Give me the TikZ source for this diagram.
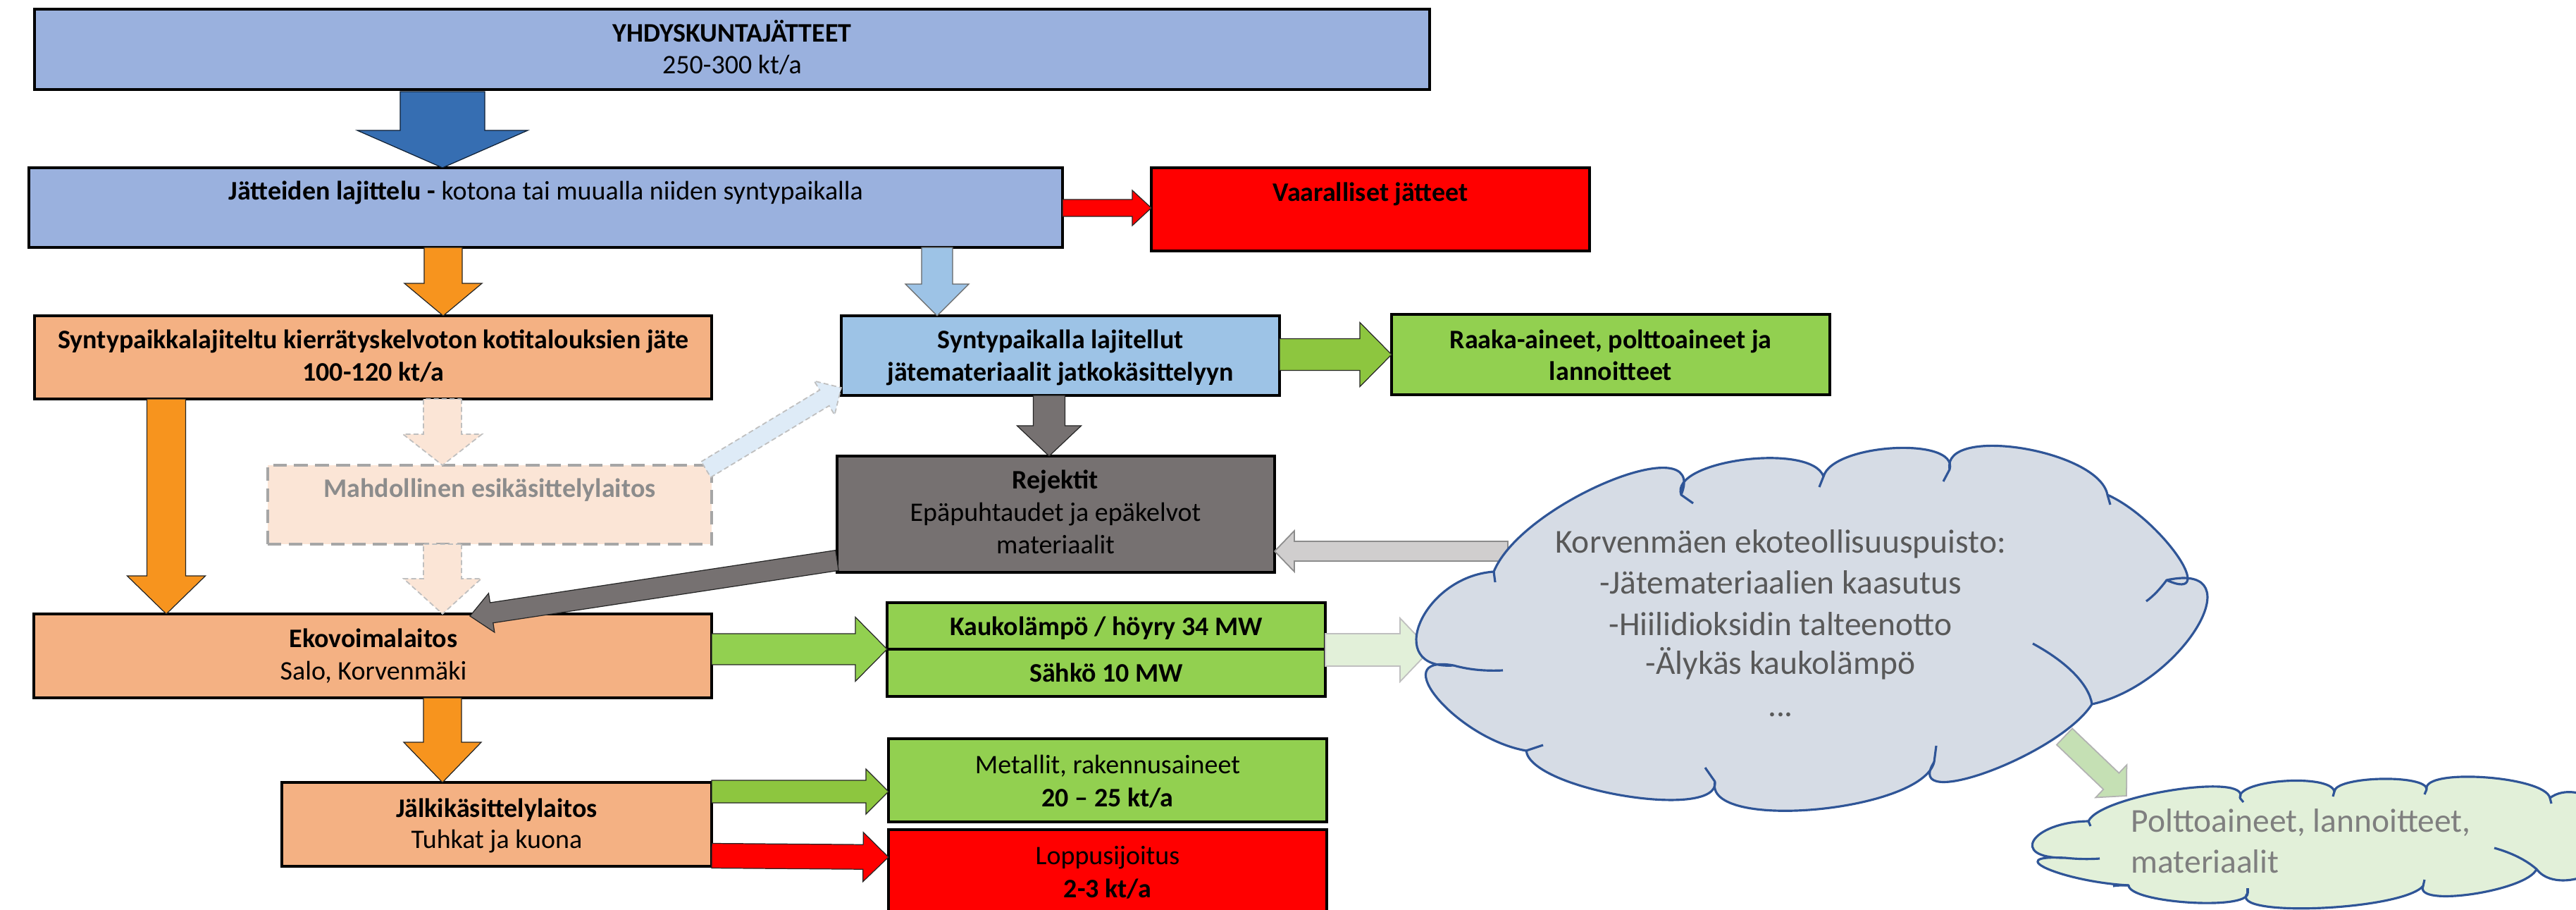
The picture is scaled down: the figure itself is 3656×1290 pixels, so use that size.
\documentclass[tikz,border=0pt]{standalone}
\usepackage{fontspec}
\setmainfont{Carlito}
\usetikzlibrary{calc}

\definecolor{topblue}{RGB}{154,177,222}
\definecolor{bigarrow}{RGB}{54,110,178}
\definecolor{orangearr}{RGB}{247,148,30}
\definecolor{peach}{RGB}{244,177,131}
\definecolor{lightpeach}{RGB}{251,229,214}
\definecolor{skyblue}{RGB}{157,195,230}
\definecolor{fadeblue}{RGB}{222,235,247}
\definecolor{okgreen}{RGB}{146,208,80}
\definecolor{darkgreen}{RGB}{141,198,63}
\definecolor{fadegreen}{RGB}{226,240,217}
\definecolor{midgreen}{RGB}{197,224,180}
\definecolor{rejgray}{RGB}{118,113,113}
\definecolor{lightgray}{RGB}{208,206,206}
\definecolor{dashgray}{RGB}{166,166,166}
\definecolor{cloudfill}{RGB}{214,220,229}
\definecolor{cloudline}{RGB}{47,85,151}
\definecolor{cloudtext}{RGB}{89,89,89}
\definecolor{softtext}{RGB}{127,127,127}

\newcommand\blockarr[6]{%
  \coordinate (ba-h) at ($(#3)!#6!(#2)$);
  \draw[#1] ($(#2)!#4!90:(#3)$) -- ($(ba-h)!#4!90:(#3)$) -- ($(ba-h)!#5!90:(#3)$) -- (#3)
    -- ($(ba-h)!#5!-90:(#3)$) -- ($(ba-h)!#4!-90:(#3)$) -- ($(#2)!#4!-90:(#3)$) -- cycle;}

\newcommand\boxnode[6]{%
  \pgfmathsetmacro\bxw{(#5-#3)*0.01}%
  \pgfmathsetmacro\bxh{(#6-#4)*0.01}%
  \node[boxshape,#2,minimum width=\bxw cm,minimum height=\bxh cm] (#1) at ({(#3+#5)/2},{(#4+#6)/2}) {};}

\tikzset{
  boxshape/.style={rectangle,draw=black,line width=1.1pt,inner sep=0pt,outer sep=0pt},
  txt/.style={anchor=base,inner sep=0pt,font=\fontsize{10.8}{12}\selectfont},
  btxt/.style={txt,font=\fontsize{10.8}{12}\selectfont\bfseries},
  cltxt/.style={anchor=base,inner sep=0pt,font=\fontsize{13.5}{15}\selectfont,text=cloudtext},
  arrline/.style={draw=black!85,line width=0.35pt,line join=miter},
  fadedash/.style={draw=black!25,line width=0.5pt,dash pattern=on 2pt off 1.2pt},
  cloudedge/.style={draw=cloudline,line width=0.9pt,line join=round},
}

\begin{document}
\begin{tikzpicture}[x=0.01cm,y=-0.01cm]
\useasboundingbox (0,0) rectangle (3656,1290);
\clip (0,0) rectangle (3656,1290);
\fill[white] (0,0) rectangle (3656,1290);

% ---------- boxes ----------
\boxnode{yhd}{fill=topblue}{49}{13}{2029}{127}
\boxnode{laj}{fill=topblue}{41}{238}{1508}{351}
\boxnode{vaar}{fill=red}{1634}{238}{2256}{356}
\boxnode{kot}{fill=peach}{49}{448}{1010}{566}
\boxnode{syn}{fill=skyblue}{1194}{448}{1816}{561}
\boxnode{raaka}{fill=okgreen}{1975}{446}{2597}{560}
\boxnode{rej}{fill=rejgray}{1188}{647}{1809}{812}
\boxnode{mahd}{fill=lightpeach,draw=dashgray,line width=1.4pt,dash pattern=on 5.5pt off 3pt}{380}{660}{1010}{772}
\boxnode{eko}{fill=peach}{48}{871}{1010}{990}
\boxnode{kauko}{fill=okgreen}{1259}{855}{1881}{921}
\boxnode{sahko}{fill=okgreen}{1259}{921}{1881}{988}
\boxnode{jalk}{fill=peach}{400}{1110}{1010}{1229}
\boxnode{metal}{fill=okgreen}{1261}{1048}{1883}{1166}
\boxnode{lopp}{fill=red}{1261}{1177}{1883}{1310}

% ---------- texts ----------
\node[btxt] (yhd1) at (1039,59) {YHDYSKUNTAJÄTTEET};
\node[txt] (yhd2) at (1039,104) {250-300 kt/a};
\node[txt] (laj1) at (775,283) {\textbf{Jätteiden lajittelu -} kotona tai muualla niiden syntypaikalla};
\node[btxt] (vaar1) at (1945,285) {Vaaralliset jätteet};
\node[btxt] (kot1) at (530,494) {Syntypaikkalajiteltu kierrätyskelvoton kotitalouksien jäte};
\node[btxt] (kot2) at (530,540) {100-120 kt/a};
\node[btxt] (syn1) at (1505,494) {Syntypaikalla lajitellut};
\node[btxt] (syn2) at (1505,540) {jätemateriaalit jatkokäsittelyyn};
\node[btxt] (raaka1) at (2286,494) {Raaka-aineet, polttoaineet ja};
\node[btxt] (raaka2) at (2286,539) {lannoitteet};
\node[btxt] (rej1) at (1498,693) {Rejektit};
\node[txt] (rej2) at (1498,739) {Epäpuhtaudet ja epäkelvot};
\node[txt] (rej3) at (1498,785) {materiaalit};
\node[btxt,text=black!45] (mahd1) at (695,705) {Mahdollinen esikäsittelylaitos};
\node[btxt] (eko1) at (530,918) {Ekovoimalaitos};
\node[txt] (eko2) at (530,964) {Salo, Korvenmäki};
\node[btxt] (kauko1) at (1570,901) {Kaukolämpö / höyry 34 MW};
\node[btxt] (sahko1) at (1570,967) {Sähkö 10 MW};
\node[btxt] (jalk1) at (705,1159) {Jälkikäsittelylaitos};
\node[txt] (jalk2) at (705,1203) {Tuhkat ja kuona};
\node[txt] (metal1) at (1572,1097) {Metallit, rakennusaineet};
\node[btxt] (metal2) at (1572,1144) {20 – 25 kt/a};
\node[txt] (lopp1) at (1572,1226) {Loppusijoitus};
\node[btxt] (lopp2) at (1572,1273) {2-3 kt/a};

% ---------- arrow end points ----------
\coordinate (a1s) at (628,130);   \coordinate (a1e) at (628,0 |- laj.north);
\coordinate (a2s) at (629,0 |- laj.south); \coordinate (a2e) at (629,0 |- kot.north);
\coordinate (a3s) at (1330,0 |- laj.south); \coordinate (a3e) at (1330,0 |- syn.north);
\coordinate (a4s) at (laj.east |- 0,295); \coordinate (a4e) at (vaar.west |- 0,295);
\coordinate (a5s) at (syn.east |- 0,503); \coordinate (a5e) at (raaka.west |- 0,503);
\coordinate (a6s) at (1489,0 |- syn.south); \coordinate (a6e) at (1489,0 |- rej.north);
\coordinate (a7s) at (2140,782); \coordinate (a7e) at (rej.east |- 0,782);
\coordinate (a8s) at (236,0 |- kot.south); \coordinate (a8e) at (236,0 |- eko.north);
\coordinate (a9s) at (628,0 |- kot.south); \coordinate (a9e) at (628,0 |- mahd.north);
\coordinate (a10s) at (628,0 |- mahd.south); \coordinate (a10e) at (628,0 |- eko.north);
\coordinate (a11s) at (1002,666); \coordinate (a11e) at (syn.west |- 0,550);
\coordinate (a12s) at (rej.west |- 0,795); \coordinate (a12e) at (667,874);
\coordinate (a13s) at (eko.east |- 0,921); \coordinate (a13e) at (kauko.west |- 0,921);
\coordinate (a14s) at (kauko.east |- 0,922); \coordinate (a14e) at (2030,922);
\coordinate (a15s) at (628,0 |- eko.south); \coordinate (a15e) at (628,0 |- jalk.north);
\coordinate (a16s) at (jalk.east |- 0,1123); \coordinate (a16e) at (metal.west |- 0,1123);
\coordinate (a17s) at (jalk.east |- 0,1214); \coordinate (a17e) at (lopp.west |- 0,1216);
\coordinate (a18s) at (2930,1045); \coordinate (a18e) at (3018,1129);

% ---------- block arrows ----------
\blockarr{fill=bigarrow,draw=black!70!bigarrow,line width=0.35pt}{a1s}{a1e}{0.6cm}{1.21cm}{0.53cm}
\blockarr{fill=orangearr,arrline}{a2s}{a2e}{0.27cm}{0.55cm}{0.46cm}
\blockarr{fill=skyblue,draw=black!60,line width=0.35pt}{a3s}{a3e}{0.22cm}{0.45cm}{0.45cm}
\blockarr{fill=red,arrline}{a4s}{a4e}{0.12cm}{0.25cm}{0.27cm}
\blockarr{fill=darkgreen,arrline}{a5s}{a5e}{0.225cm}{0.455cm}{0.45cm}
\blockarr{fill=rejgray,arrline}{a6s}{a6e}{0.225cm}{0.455cm}{0.43cm}
\blockarr{fill=lightgray,draw=black!45,line width=0.5pt}{a7s}{a7e}{0.14cm}{0.29cm}{0.28cm}
\blockarr{fill=orangearr,arrline}{a8s}{a8e}{0.275cm}{0.555cm}{0.54cm}
\blockarr{fill=lightpeach,fadedash}{a9s}{a9e}{0.27cm}{0.56cm}{0.44cm}
\blockarr{fill=lightpeach,fadedash}{a10s}{a10e}{0.27cm}{0.55cm}{0.50cm}
\blockarr{fill=fadeblue,fadedash}{a11s}{a11e}{0.13cm}{0.28cm}{0.28cm}
\blockarr{fill=rejgray,arrline}{a12s}{a12e}{0.145cm}{0.28cm}{0.31cm}
\blockarr{fill=okgreen,arrline}{a13s}{a13e}{0.22cm}{0.455cm}{0.45cm}
\blockarr{fill=fadegreen,draw=black!25,line width=0.5pt}{a14s}{a14e}{0.23cm}{0.45cm}{0.43cm}
\blockarr{fill=orangearr,arrline}{a15s}{a15e}{0.27cm}{0.55cm}{0.57cm}
\blockarr{fill=darkgreen,arrline}{a16s}{a16e}{0.16cm}{0.32cm}{0.32cm}
\blockarr{fill=red,arrline}{a17s}{a17e}{0.175cm}{0.35cm}{0.36cm}

% ---------- small cloud ----------
\draw[cloudedge,fill=fadegreen] (2964,1165) .. controls (2981,1128) and (3196,1095) .. (3179,1132)
  .. controls (3174,1106) and (3308,1097) .. (3313,1123)
  .. controls (3314,1101) and (3445,1098) .. (3444,1120)
  .. controls (3437,1089) and (3612,1101) .. (3619,1132)
  .. controls (3659,1102) and (3740,1160) .. (3700,1190)
  .. controls (3730,1230) and (3630,1273) .. (3600,1233)
  .. controls (3587,1264) and (3426,1288) .. (3439,1257)
  .. controls (3408,1292) and (3159,1302) .. (3190,1267)
  .. controls (3191,1292) and (3022,1281) .. (3021,1256)
  .. controls (2928,1251) and (2838,1212) .. (2931,1217)
  .. controls (2850,1218) and (2883,1166) .. (2964,1165) -- cycle;
\draw[cloudedge] (2931,1217) .. controls (2950,1219) and (2966,1219) .. (2980,1218);
\draw[cloudedge] (3021,1256) .. controls (3010,1256) and (3004,1256) .. (2999,1257);
\draw[cloudedge] (3190,1267) -- (3190,1260);
\draw[cloudedge] (3439,1257) -- (3441,1248);
\draw[cloudedge] (3600,1233) .. controls (3585,1220) and (3565,1210) .. (3540,1203);
\draw[cloudedge] (3179,1132) -- (3184,1138);
\draw[cloudedge] (3313,1123) -- (3311,1130);
\draw[cloudedge] (3444,1120) -- (3441,1127);
\draw[cloudedge] (3619,1132) -- (3621,1140);
\draw[cloudedge] (2964,1165) -- (2967,1172);
\node[cltxt,anchor=base west,text=softtext] (prod1) at (3024,1180) {Polttoaineet, lannoitteet,};
\node[cltxt,anchor=base west,text=softtext] (prod2) at (3024,1238) {materiaalit};

\blockarr{fill=midgreen,draw=black!30,line width=0.5pt}{a18s}{a18e}{0.16cm}{0.32cm}{0.30cm}

% ---------- big cloud ----------
\draw[cloudedge,fill=cloudfill] (2120,811) .. controls (2160,713) and (2426,604) .. (2386,702)
  .. controls (2369,653) and (2571,627) .. (2588,676)
  .. controls (2601,629) and (2780,619) .. (2767,666)
  .. controls (2755,602) and (2979,638) .. (2991,702)
  .. controls (3067,736) and (3151,857) .. (3075,823)
  .. controls (3203,795) and (3097,971) .. (2969,999)
  .. controls (2922,1072) and (2698,1154) .. (2745,1081)
  .. controls (2728,1152) and (2417,1180) .. (2434,1109)
  .. controls (2441,1165) and (2173,1121) .. (2166,1065)
  .. controls (2068,1048) and (1965,927) .. (2063,944)
  .. controls (1962,951) and (2019,818) .. (2120,811) -- cycle;
\draw[cloudedge] (2120,811) -- (2122,826);
\draw[cloudedge] (2386,702) -- (2403,714);
\draw[cloudedge] (2588,676) -- (2582,691);
\draw[cloudedge] (2767,666) -- (2758,683);
\draw[cloudedge] (2991,702) -- (2995,716);
\draw[cloudedge] (3075,823) .. controls (3066,835) and (3057,845) .. (3046,853);
\draw[cloudedge] (2885,913) .. controls (2935,940) and (2965,972) .. (2969,999);
\draw[cloudedge] (2745,1081) -- (2748,1058);
\draw[cloudedge] (2434,1109) -- (2420,1089);
\draw[cloudedge] (2166,1065) -- (2190,1057);
\draw[cloudedge] (2063,944) .. controls (2088,951) and (2112,952) .. (2133,951);
\node[cltxt] (park1) at (2527,784) {Korvenmäen ekoteollisuuspuisto:};
\node[cltxt] (park2) at (2527,842) {-Jätemateriaalien kaasutus};
\node[cltxt] (park3) at (2527,901) {-Hiilidioksidin talteenotto};
\node[cltxt] (park4) at (2527,956) {-Älykäs kaukolämpö};
\node[cltxt] (park5) at (2527,1016) {...};
\end{tikzpicture}
\end{document}
